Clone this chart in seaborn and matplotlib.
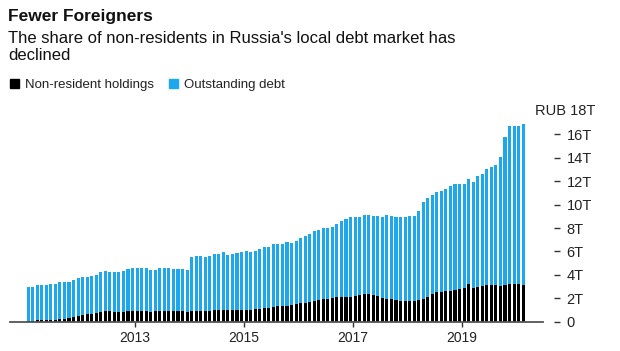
import numpy as np
import pandas as pd
import matplotlib
matplotlib.use("Agg")
from matplotlib import pyplot as plt
from matplotlib.patches import Patch
import seaborn as sns

# monthly values, RUB trillions, Jan 2011 .. Feb 2020
outstanding = [
    2.95, 2.95, 3.15, 3.15, 3.15, 3.2, 3.25, 3.4, 3.35, 3.42, 3.6, 3.7,          # 2011
    3.85, 3.8, 3.93, 4.0, 4.25, 4.3, 4.22, 4.22, 4.28, 4.36, 4.5, 4.55,          # 2012
    4.55, 4.55, 4.55, 4.4, 4.45, 4.6, 4.62, 4.55, 4.5, 4.5, 4.5, 4.4,            # 2013
    5.5, 5.6, 5.6, 5.5, 5.6, 5.75, 5.8, 5.95, 5.7, 5.8, 5.9, 5.95,               # 2014
    6.05, 5.95, 6.05, 6.25, 6.4, 6.4, 6.6, 6.67, 6.67, 6.8, 6.75, 6.9,           # 2015
    7.15, 7.35, 7.5, 7.75, 7.85, 7.98, 7.98, 8.05, 8.35, 8.6, 8.8, 8.9,          # 2016
    8.9, 8.9, 9.1, 9.1, 9.0, 9.0, 8.97, 9.1, 9.0, 8.95, 8.95, 8.97,              # 2017
    9.0, 9.05, 9.45, 10.25, 10.6, 10.8, 11.1, 11.2, 11.3, 11.6, 11.75, 11.75,    # 2018
    11.75, 12.2, 11.95, 12.4, 12.6, 13.05, 13.25, 13.4, 14.1, 15.75, 16.67, 16.75,  # 2019
    16.75, 16.87,                                                                # 2020
]
non_resident = [
    0.05, 0.06, 0.12, 0.14, 0.14, 0.14, 0.15, 0.22, 0.24, 0.3, 0.43, 0.5,
    0.57, 0.65, 0.67, 0.72, 0.85, 0.9, 0.88, 0.85, 0.83, 0.85, 0.92, 0.94,
    0.94, 0.94, 0.88, 0.86, 0.88, 0.92, 0.92, 0.92, 0.92, 0.9, 0.88, 0.86,
    0.88, 0.9, 0.92, 0.95, 0.95, 0.97, 1.0, 1.0, 1.0, 1.0, 1.0, 1.02,
    1.02, 1.02, 1.05, 1.12, 1.15, 1.2, 1.28, 1.3, 1.3, 1.3, 1.4, 1.5,
    1.57, 1.6, 1.7, 1.78, 1.85, 1.9, 1.9, 2.0, 2.08, 2.1, 2.14, 2.14,
    2.2, 2.25, 2.33, 2.35, 2.28, 2.2, 2.05, 1.94, 1.9, 1.85, 1.8, 1.77,
    1.77, 1.8, 1.85, 1.95, 2.14, 2.37, 2.5, 2.56, 2.6, 2.65, 2.7, 2.76,
    2.85, 3.2, 2.85, 2.95, 3.05, 3.1, 3.1, 3.1, 3.05, 3.15, 3.2, 3.2,
    3.2, 3.1,
]
months = pd.date_range("2011-01-01", periods=len(outstanding), freq="MS")
year_ticks = [2013, 2015, 2017, 2019]
y_ticks = [0, 2, 4, 6, 8, 10, 12, 14, 16]
y_labels = ["0", "2T", "4T", "6T", "8T", "10T", "12T", "14T", "16T"]

BLUE = "#1da8ee"
df = pd.DataFrame({"month": months.strftime("%Y-%m"),
                   "outstanding": outstanding,
                   "non_resident": non_resident})

sns.set_style("white")
plt.rcParams["font.family"] = ["Liberation Sans", "DejaVu Sans"]

fig = plt.figure(figsize=(6.2, 3.51), dpi=100)
ax = fig.add_axes([0.016, 0.0835, 0.86, 0.6005])

sns.barplot(data=df, x="month", y="outstanding", color=BLUE, saturation=1,
            width=0.68, linewidth=0, ax=ax)
sns.barplot(data=df, x="month", y="non_resident", color="black", saturation=1,
            width=0.68, linewidth=0, ax=ax)

ax.set_xlim(-4.0, 113.4)
ax.set_ylim(0, 18)
ax.set_xlabel("")
ax.set_ylabel("")

# year ticks sit on Jan 1 -> between Dec and Jan bars
pos = [months.get_loc(pd.Timestamp(f"{y}-01-01")) - 0.5 for y in year_ticks]
ax.set_xticks(pos)
ax.set_xticklabels([str(y) for y in year_ticks])
ax.tick_params(axis="x", length=3.5, width=1, color="#333", pad=3.5,
               labelsize=10, labelcolor="#222", bottom=True)

ax.yaxis.tick_right()
ax.set_yticks(y_ticks)
ax.set_yticklabels(y_labels)
ax.spines["right"].set_position(("outward", 7.5))
ax.tick_params(axis="y", length=4, width=1, color="#333", pad=5.5,
               labelsize=10.5, labelcolor="#222", right=True, left=False)
for s in ["top", "left", "right"]:
    ax.spines[s].set_visible(False)
ax.spines["bottom"].set_color("#555")
ax.spines["bottom"].set_linewidth(1.3)

ax.annotate("RUB 18T", xy=(1, 18), xycoords=("axes fraction", "data"),
            xytext=(37.5, 0), textcoords="offset points", ha="right",
            va="center", fontsize=10.5, color="#222")

fig.text(0.013, 0.953, "Fewer Foreigners", fontsize=12.5, fontweight="bold",
         va="center", color="#111")
fig.text(0.013, 0.865, "The share of non-residents in Russia's local debt market has\ndeclined",
         fontsize=12, va="center", color="#111", linespacing=1.15)

handles = [Patch(color="black"), Patch(color=BLUE)]
fig.legend(handles, ["Non-resident holdings", "Outstanding debt"],
           loc="center left", bbox_to_anchor=(-0.003, 0.757), ncol=2,
           frameon=False, fontsize=9.5, handlelength=0.7, handleheight=0.7,
           handletextpad=0.45, columnspacing=1.1, labelcolor="#222")

fig.savefig("out.png", dpi=100)
